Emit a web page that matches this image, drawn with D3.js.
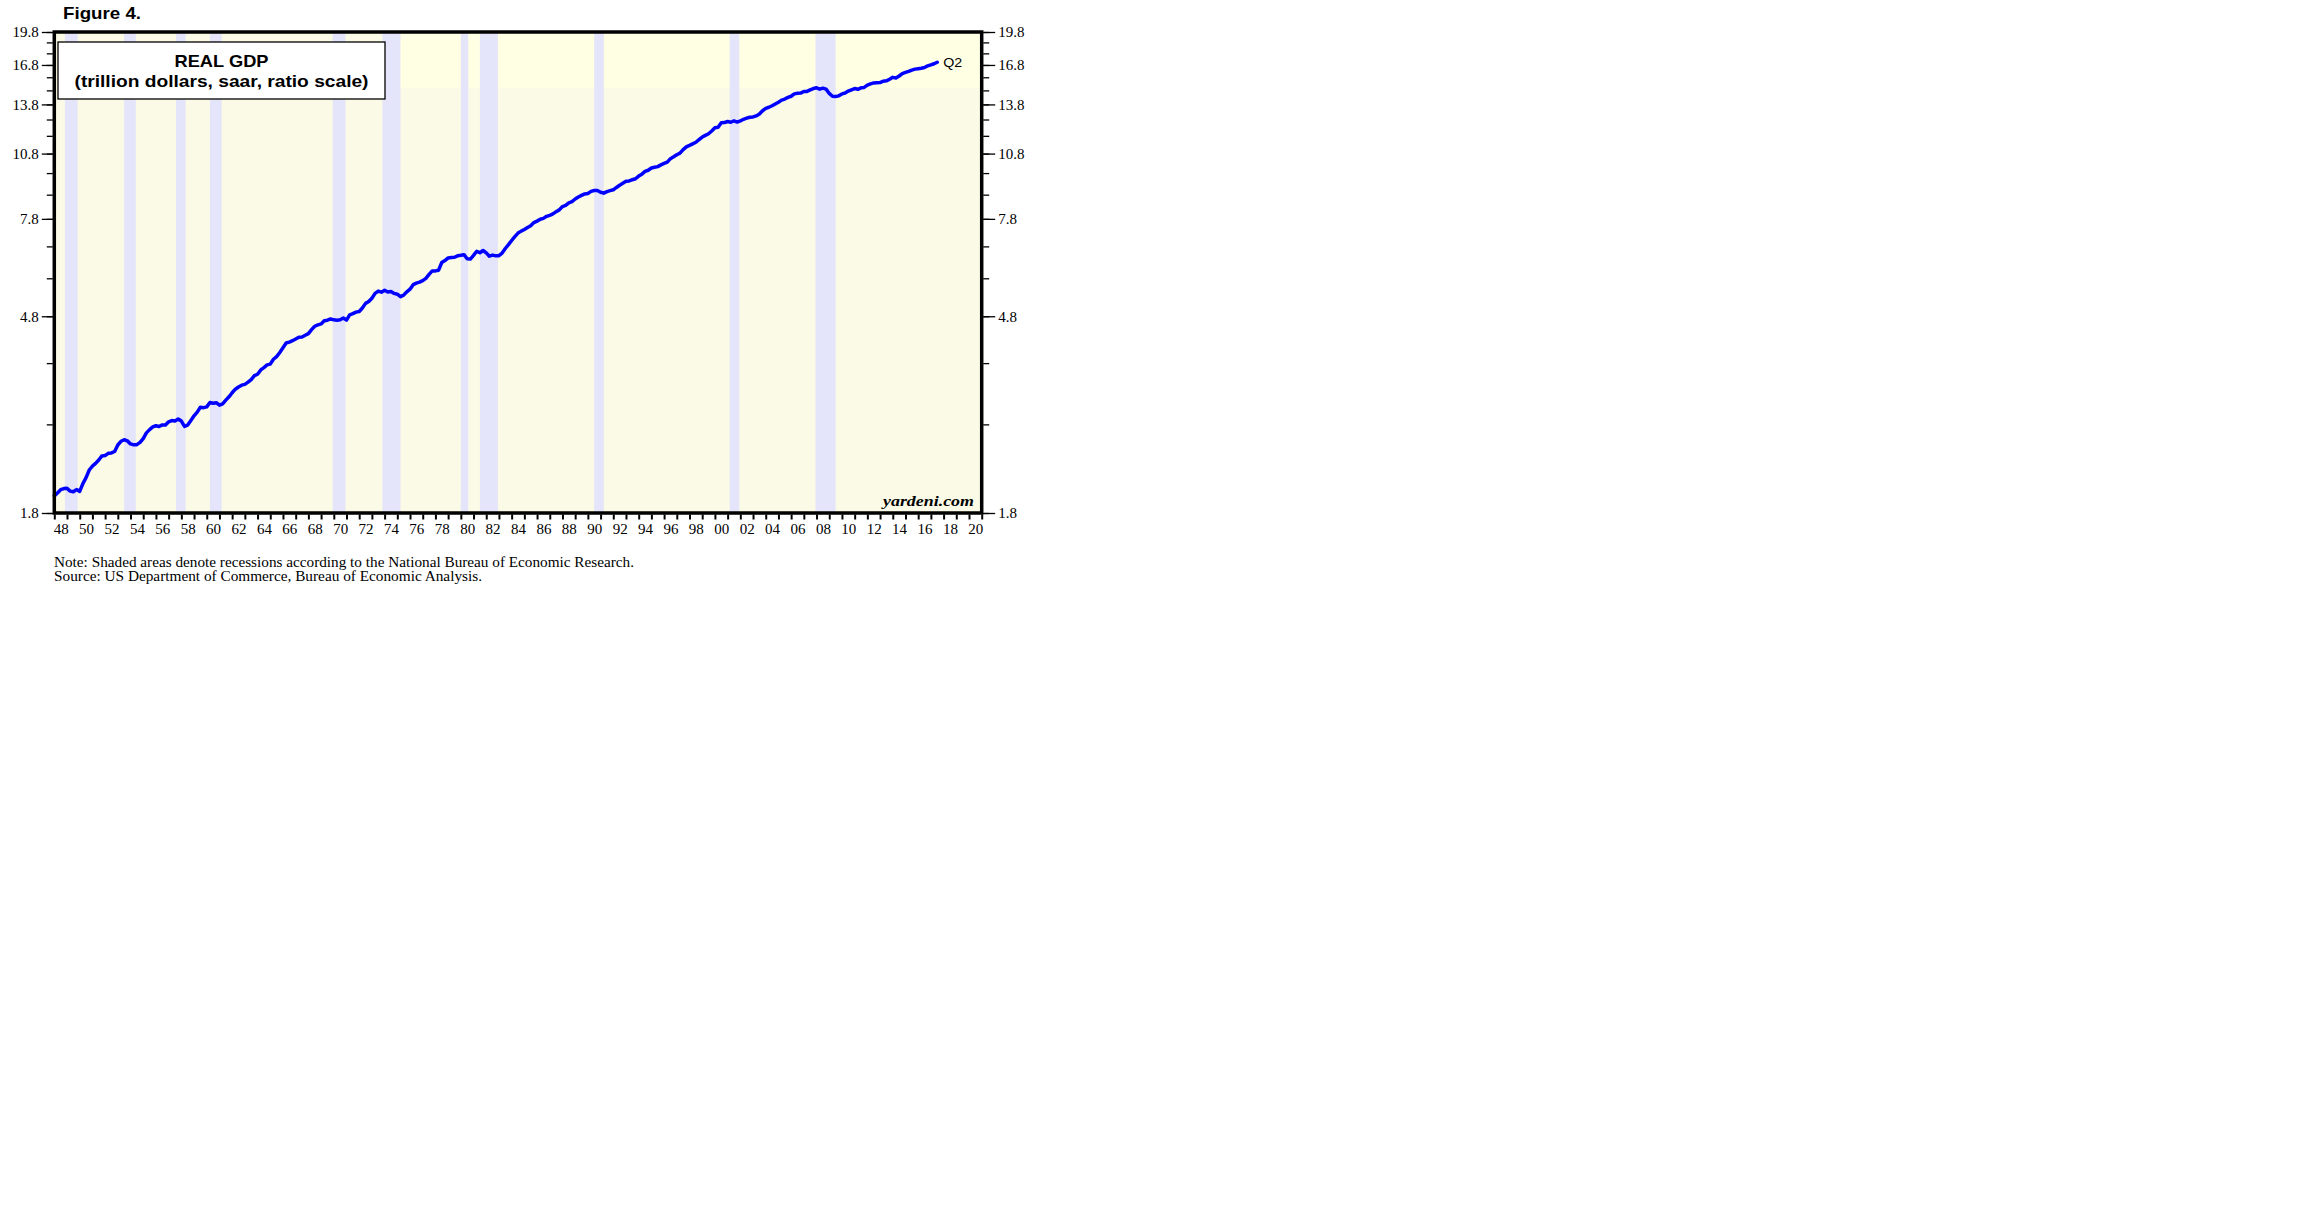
<!DOCTYPE html>
<html><head><meta charset="utf-8">
<script src="https://cdn.jsdelivr.net/npm/d3@7/dist/d3.min.js"></script>
<style>body{margin:0;background:#fff}</style>
</head><body>
<svg id="c" width="2304" height="1228"></svg>
<script>
// Real GDP, billions of chained 2009 dollars, quarterly, starting 1947 Q4
const firstYear = 1947, firstQ = 4;
const gdp = [
 1960.7,
 1989.5,2021.9,2033.2,2035.3, 2007.5,2000.8,2022.8,2004.7,
 2084.6,2147.6,2230.4,2273.4, 2304.5,2344.5,2392.8,2398.1,
 2423.5,2428.5,2446.1,2526.4, 2573.4,2593.5,2578.9,2539.8,
 2528.0,2530.7,2559.4,2609.3, 2683.8,2727.5,2764.1,2780.8,
 2770.0,2792.9,2790.6,2836.2, 2854.5,2848.2,2875.9,2846.4,
 2772.7,2790.9,2855.5,2922.3, 2976.6,3049.0,3043.1,3055.1,
 3123.2,3111.3,3119.1,3081.3, 3102.3,3159.9,3212.6,3277.7,
 3336.8,3372.7,3404.8,3418.0, 3456.1,3501.1,3569.5,3595.0,
 3672.7,3716.4,3766.9,3780.2, 3873.5,3926.4,4006.2,4100.6,
 4201.9,4219.1,4249.2,4285.6, 4324.9,4328.7,4366.1,4401.2,
 4490.6,4566.4,4599.3,4619.8, 4691.6,4706.7,4736.1,4715.5,
 4707.1,4715.4,4757.2,4708.3, 4834.3,4861.9,4900.0,4914.3,
 5002.4,5118.3,5165.4,5251.2, 5380.5,5441.5,5411.9,5462.4,
 5417.0,5431.3,5378.7,5357.2, 5292.4,5333.2,5421.4,5494.4,
 5618.5,5661.0,5689.8,5732.5, 5799.2,5913.0,6017.6,6018.2,
 6039.2,6274.0,6335.3,6420.3, 6433.0,6440.8,6487.1,6503.9,
 6524.9,6392.6,6382.9,6501.2, 6635.7,6587.3,6662.9,6585.1,
 6475.0,6510.2,6486.8,6493.1, 6578.2,6728.3,6860.0,7001.5,
 7140.6,7266.0,7337.5,7396.0, 7469.5,7537.9,7655.2,7712.6,
 7784.1,7819.8,7898.6,7939.5, 7995.0,8084.7,8158.0,8292.7,
 8339.3,8449.5,8498.3,8610.9, 8697.7,8766.1,8831.5,8850.2,
 8947.1,8981.7,8983.9,8907.4, 8865.6,8934.4,8977.3,9016.4,
 9123.0,9223.5,9313.2,9406.5, 9424.1,9480.1,9526.3,9653.5,
 9748.2,9881.4,9939.7,10052.5, 10086.9,10122.1,10208.8,10281.2,
 10348.7,10529.4,10626.8,10739.1, 10820.9,11014.3,11167.9,11248.8,
 11337.0,11427.0,11576.6,11726.3, 11827.3,11923.4,12086.4,12281.5,
 12320.4,12589.5,12604.3,12674.6, 12626.2,12708.6,12634.9,12706.7,
 12813.4,12884.3,12946.8,12964.0, 13031.2,13152.1,13372.4,13528.7,
 13606.5,13706.2,13830.8,13950.4, 14099.1,14172.7,14291.8,14373.4,
 14546.1,14589.6,14602.6,14716.9, 14726.0,14838.7,14938.5,14991.8,
 14889.5,14963.4,14891.6,14577.0, 14375.0,14355.6,14402.5,14541.9,
 14604.8,14745.9,14845.5,14939.0, 14881.3,14989.6,15021.1,15190.3,
 15291.0,15362.4,15380.8,15384.3, 15491.9,15521.6,15641.3,15793.9,
 15747.0,15900.8,16094.5,16186.7, 16269.0,16374.2,16454.9,16490.7,
 16525.0,16583.1,16727.0,16813.3, 16903.2,17031.1
];
// NBER recessions: peak month to trough month
const recessions = [
 ["1948-11","1949-10"],["1953-07","1954-05"],["1957-08","1958-04"],["1960-04","1961-02"],
 ["1969-12","1970-11"],["1973-11","1975-03"],["1980-01","1980-07"],["1981-07","1982-11"],
 ["1990-07","1991-03"],["2001-03","2001-11"],["2007-12","2009-06"]
];
const yMajorTicks = [1.8,4.8,7.8,10.8,13.8,16.8,19.8];
const yMinorTicks = [1.8,2.8,3.8,4.8,5.8,6.8,7.8,8.8,9.8,10.8,11.8,12.8,13.8,14.8,15.8,16.8,17.8,18.8,19.8];
const xLabelYears = [1948,1950,1952,1954,1956,1958,1960,1962,1964,1966,1968,1970,1972,1974,1976,1978,1980,1982,1984,1986,1988,1990,1992,1994,1996,1998,2000,2002,2004,2006,2008,2010,2012,2014,2016,2018,2020];
const xDomain = [1948, 2021];
const yDomain = [1.8, 19.8];
const lastLabel = "Q2";

const svg = d3.select("#c");
const L = 54.3, R = 981.7, T = 32, B = 513;
const x = d3.scaleLinear().domain(xDomain).range([L, R]);
const y = d3.scaleLog().domain(yDomain).range([B, T]);

const serif = "'Liberation Serif','Times New Roman',serif";
const sans = "'Liberation Sans',Arial,Helvetica,sans-serif";

svg.append("rect").attr("width",2304).attr("height",1228).attr("fill","#fff");
// plot background
svg.append("rect").attr("x",L).attr("y",T).attr("width",R-L).attr("height",B-T).attr("fill","#FBFAE6");
svg.append("rect").attr("x",x(1974)).attr("y",T).attr("width",R-x(1974)).attr("height",y(15.0)-T).attr("fill","#FFFFE4");

const toDec = s => { const [yy,mm] = s.split("-").map(Number); return yy + (mm-1)/12; };
svg.append("g").selectAll("rect").data(recessions).join("rect")
  .attr("x", d => x(toDec(d[0])))
  .attr("width", d => x(toDec(d[1]) + 1/12) - x(toDec(d[0])))
  .attr("y", T).attr("height", B-T).attr("fill","#E4E4FA");

// data
const data = gdp.map((v,i) => {
  const qi = firstQ - 1 + i;
  const yr = firstYear + Math.floor(qi/4), q = qi % 4 + 1;
  return {t: yr + q/4, v: v/1000};
});
svg.append("path").datum(data)
  .attr("fill","none").attr("stroke","#0000FF").attr("stroke-width",3.5)
  .attr("stroke-linejoin","round").attr("stroke-linecap","round")
  .attr("d", d3.line().x(d => x(d.t)).y(d => y(d.v)));

const last = data[data.length-1];
svg.append("text").attr("x", x(last.t)+6).attr("y", y(last.v)+5)
  .attr("font-family",sans).attr("font-size",13).attr("textLength",19).attr("lengthAdjust","spacingAndGlyphs")
  .text(lastLabel);

// title box
svg.append("rect").attr("x",58).attr("y",42).attr("width",327).attr("height",57)
  .attr("fill","#fff").attr("stroke","#000").attr("stroke-width",1.3);
svg.append("text").attr("x",221.5).attr("y",66.5).attr("text-anchor","middle")
  .attr("font-family",sans).attr("font-weight","bold").attr("font-size",17)
  .attr("textLength",94).attr("lengthAdjust","spacingAndGlyphs").text("REAL GDP");
svg.append("text").attr("x",221.5).attr("y",86.5).attr("text-anchor","middle")
  .attr("font-family",sans).attr("font-weight","bold").attr("font-size",17)
  .attr("textLength",294).attr("lengthAdjust","spacingAndGlyphs").text("(trillion dollars, saar, ratio scale)");

svg.append("text").attr("x",974).attr("y",505.5).attr("text-anchor","end")
  .attr("font-family",serif).attr("font-weight","bold").attr("font-style","italic").attr("font-size",15)
  .attr("textLength",91).attr("lengthAdjust","spacingAndGlyphs").text("yardeni.com");

// frame
svg.append("rect").attr("x",L).attr("y",T).attr("width",R-L).attr("height",B-T)
  .attr("fill","none").attr("stroke","#000").attr("stroke-width",3.5);

// axes
function styleAxis(g){ g.select(".domain").remove(); g.selectAll(".tick line").attr("stroke","#000").attr("stroke-width",1.3);
  g.selectAll("text").attr("font-family",serif).attr("font-size",15).attr("fill","#000"); }
svg.append("g").attr("transform",`translate(${L-1.5},0)`)
  .call(d3.axisLeft(y).tickValues(yMinorTicks).tickSize(6).tickFormat(""))
  .call(styleAxis);
svg.append("g").attr("transform",`translate(${L-1.5},0)`)
  .call(d3.axisLeft(y).tickValues(yMajorTicks).tickSize(11).tickPadding(3).tickFormat(d3.format(".1f")))
  .call(styleAxis);
svg.append("g").attr("transform",`translate(${R+1.5},0)`)
  .call(d3.axisRight(y).tickValues(yMinorTicks).tickSize(6).tickFormat(""))
  .call(styleAxis);
svg.append("g").attr("transform",`translate(${R+1.5},0)`)
  .call(d3.axisRight(y).tickValues(yMajorTicks).tickSize(12).tickPadding(3).tickFormat(d3.format(".1f")))
  .call(styleAxis);
svg.append("g").attr("transform",`translate(0,${B+1.5})`)
  .call(d3.axisBottom(x).tickValues(d3.range(xDomain[0], xDomain[1]+1)).tickSize(5).tickFormat(""))
  .call(styleAxis).selectAll(".tick line").attr("stroke-width",2);
svg.append("g").attr("transform",`translate(0,${B+1.5})`)
  .call(d3.axisBottom(x).tickValues(xLabelYears.map(v => v + 0.5)).tickSize(0).tickPadding(9)
        .tickFormat(d => String(Math.floor(d) % 100).padStart(2,"0")))
  .call(styleAxis);

// header & notes
svg.append("text").attr("x",63).attr("y",19).attr("font-family",sans).attr("font-weight","bold")
  .attr("font-size",17).attr("textLength",78).attr("lengthAdjust","spacingAndGlyphs").text("Figure 4.");
svg.append("text").attr("x",54).attr("y",567).attr("font-family",serif).attr("font-size",14.5)
  .attr("textLength",580).attr("lengthAdjust","spacingAndGlyphs")
  .text("Note: Shaded areas denote recessions according to the National Bureau of Economic Research.");
svg.append("text").attr("x",54).attr("y",580.5).attr("font-family",serif).attr("font-size",14.5)
  .attr("textLength",428).attr("lengthAdjust","spacingAndGlyphs")
  .text("Source: US Department of Commerce, Bureau of Economic Analysis.");
</script>
</body></html>
